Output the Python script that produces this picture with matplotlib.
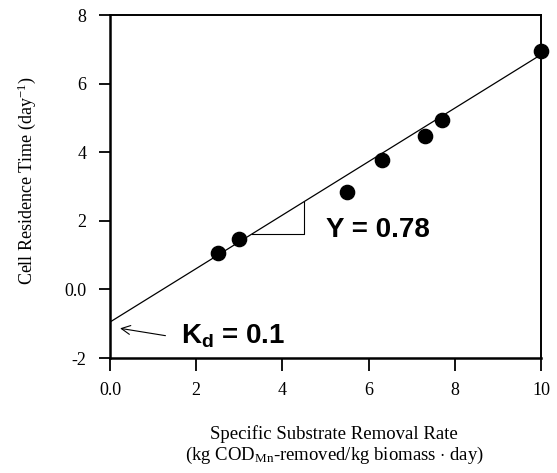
import numpy as np
import matplotlib
matplotlib.use("Agg")
import matplotlib.pyplot as plt

# --- data ---
q_rate = [2.5, 3.0, 5.5, 6.3, 7.3, 7.7, 10.0]
inv_srt = [1.05, 1.48, 2.85, 3.78, 4.47, 4.95, 6.95]

# fitted line: slope Y, intercept at x = 0
slope_y = 0.78
intercept = -0.95

x_ticks = [0, 2, 4, 6, 8, 10]
x_tick_labels = ["0.0", "2", "4", "6", "8", "10"]
y_ticks = [-2, 0, 2, 4, 6, 8]
y_tick_labels = ["-2", "0.0", "2", "4", "6", "8"]

serif = "Liberation Serif"
sans = "Liberation Sans"

plt.rcParams["mathtext.fontset"] = "custom"
plt.rcParams["mathtext.rm"] = serif
plt.rcParams["mathtext.it"] = serif + ":italic"
plt.rcParams["mathtext.bf"] = sans + ":bold"

fig = plt.figure(figsize=(5.57, 4.73), dpi=100)
ax = fig.add_axes([0.1975, 0.243, 0.774, 0.725])

# regression line across the whole axis
x_line = np.array([0.0, 10.0])
ax.plot(x_line, slope_y * x_line + intercept, color="black", linewidth=0.9)

# data points
ax.scatter(q_rate, inv_srt, s=105, color="black", zorder=3, clip_on=False)

# slope triangle
tx0, tx1 = 3.3, 4.5
ax.plot([tx0, tx1, tx1], [slope_y * tx0 + intercept] * 2 + [slope_y * tx1 + intercept],
        color="black", linewidth=0.8)
ax.text(5.02, 1.72, "Y = 0.78", fontsize=20, fontweight="bold", family=sans,
        va="center", ha="left")

# Kd annotation
ax.annotate("", xy=(0.17, -1.12), xytext=(1.35, -1.36),
            arrowprops=dict(arrowstyle="->", color="black", lw=0.8,
                            mutation_scale=16))
ax.text(1.65, -1.36, r"$\mathbf{K_d}$ = 0.1", fontsize=20, fontweight="bold",
        family=sans, va="center", ha="left")

ax.set_xlim(0, 10)
ax.set_ylim(-2, 8)
ax.set_xticks(x_ticks)
ax.set_xticklabels(x_tick_labels, family=serif, fontsize=13)
ax.set_yticks(y_ticks)
ax.set_yticklabels(y_tick_labels, family=serif, fontsize=13)
ax.tick_params(axis="x", direction="out", length=9, width=1.3, pad=8)
ax.tick_params(axis="y", direction="out", length=8, width=1.3, pad=9)

for side in ["left", "bottom"]:
    ax.spines[side].set_linewidth(1.8)
for side in ["top", "right"]:
    ax.spines[side].set_linewidth(1.4)

ax.set_xlabel("Specific Substrate Removal Rate\n"
              r"(kg COD$_{\mathrm{Mn}}$-removed/kg biomass $\cdot$ day)",
              family=serif, fontsize=13.5, linespacing=1.15)
ax.xaxis.set_label_coords(0.52, -0.195)
ax.set_ylabel(r"Cell Residence Time (day$^{-1}$)", family=serif, fontsize=13)
ax.yaxis.set_label_coords(-0.166, 0.516)

fig.savefig("out.png", dpi=100)
